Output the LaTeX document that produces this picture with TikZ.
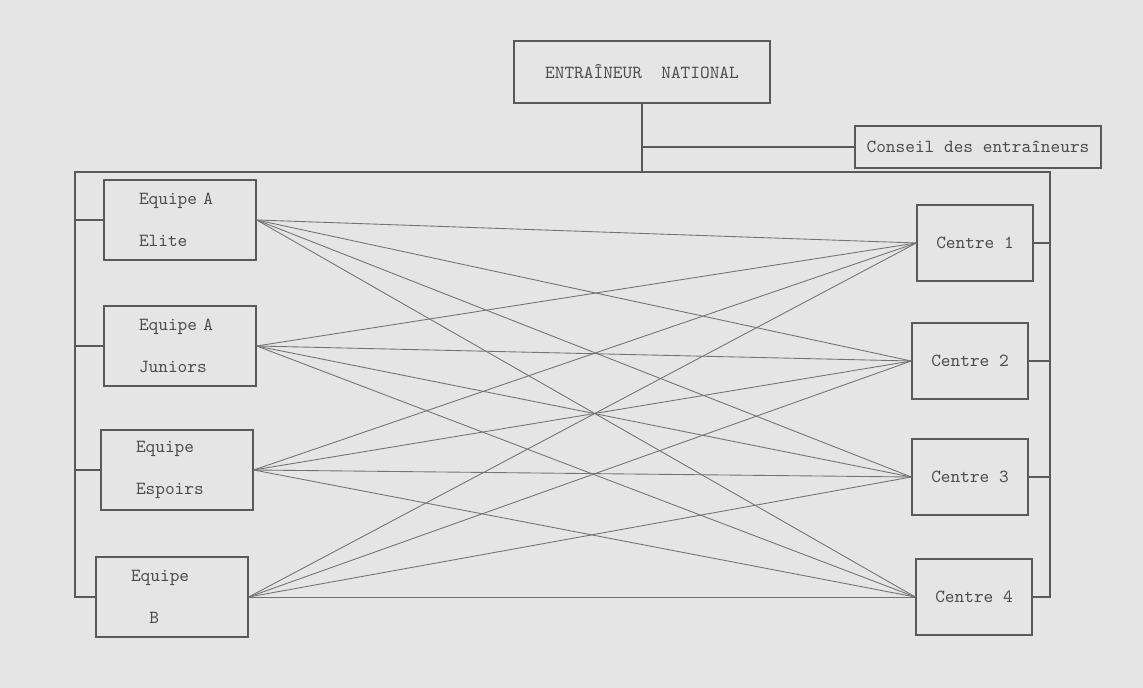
\documentclass[tikz,border=0pt]{standalone}
\begin{document}
\begin{tikzpicture}[
  x=0.02cm, y=-0.02cm,
  box/.style={draw=black!65, line width=0.8pt, inner sep=0pt, font=\ttfamily\fontsize{10.5}{24}\selectfont, text=black!70},
  team/.style={box, minimum width=3.04cm, minimum height=1.6cm, align=left, text width=1.64cm},
  centre/.style={box, minimum width=2.32cm, minimum height=1.52cm},
  link/.style={draw=black!55, line width=0.5pt},
  frame/.style={draw=black!65, line width=0.8pt}
]
\fill[black!10] (0,0) rectangle (1143,688);

\node[box, minimum width=5.12cm, minimum height=1.24cm] (national) at (642,72) {ENTRA\^INEUR\ \ NATIONAL};
\node[box, minimum width=4.92cm, minimum height=0.84cm] (conseil) at (978,147) {Conseil des entra\^ineurs};

\node[team] (elite) at (180,220) {Equipe A\\Elite};
\node[team] (juniors) at (180,346) {Equipe A\\Juniors};
\node[team] (espoirs) at (177,470) {Equipe\\Espoirs};
\node[team] (b) at (172,597) {Equipe\\\ \ \ B};

\node[centre] (c1) at (975,243) {Centre 1};
\node[centre] (c2) at (970,361) {Centre 2};
\node[centre] (c3) at (970,477) {Centre 3};
\node[centre] (c4) at (974,597) {Centre 4};

\coordinate (tl) at (75,172);
\coordinate (tr) at (1050,172);
\coordinate (top) at (national.south |- tl);
\coordinate (join) at (national.south |- conseil.west);

% cadre
\draw[frame] (national.south) -- (top);
\draw[frame] (join) -- (conseil.west);
\draw[frame] (b.west) -- (b.west -| tl) -- (tl) -- (tr) -- (tr |- c4.east) -- (c4.east);
\foreach \t in {elite,juniors,espoirs}
  \draw[frame] (\t.west) -- (\t.west -| tl);
\foreach \c in {c1,c2,c3}
  \draw[frame] (\c.east) -- (\c.east -| tr);

% liaisons equipes - centres
\foreach \t in {elite,juniors,espoirs,b}
  \foreach \c in {c1,c2,c3,c4}
    \draw[link] (\t.east) -- (\c.west);
\end{tikzpicture}
\end{document}
